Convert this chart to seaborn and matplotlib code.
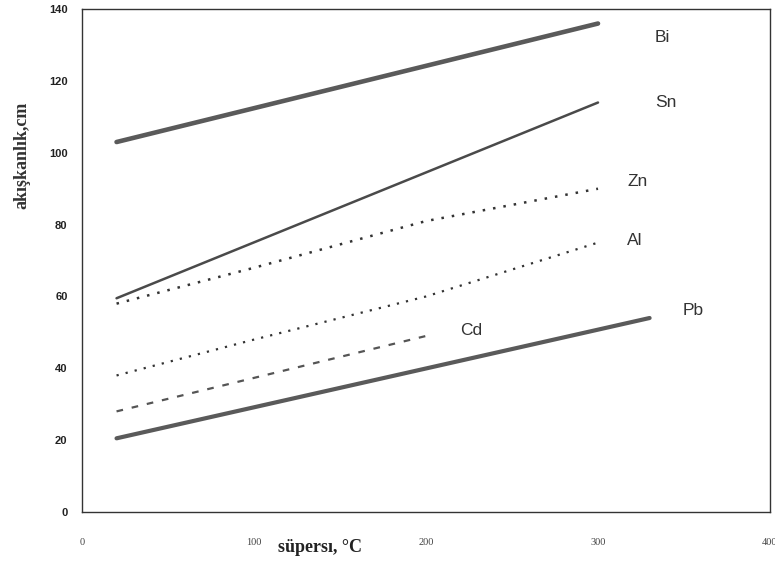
import matplotlib
matplotlib.use("Agg")
import matplotlib.pyplot as plt
import seaborn as sns
import pandas as pd

# data
bi_x = [20, 300]
bi_y = [103, 136]
sn_x = [20, 300]
sn_y = [59.5, 114]
zn_x = [20, 100, 200, 300]
zn_y = [58, 68, 81, 90]
al_x = [20, 100, 200, 300]
al_y = [38, 48, 60, 75]
cd_x = [20, 200]
cd_y = [28, 49]
pb_x = [20, 330]
pb_y = [20.5, 54]

metals = ["Bi", "Sn", "Zn", "Al", "Cd", "Pb"]
xs = [bi_x, sn_x, zn_x, al_x, cd_x, pb_x]
ys = [bi_y, sn_y, zn_y, al_y, cd_y, pb_y]
label_x = [333, 333, 317, 317, 220, 349]
label_y = [132, 114, 92, 75.5, 50.5, 56]

x_ticks = [0, 100, 200, 300, 400]
y_ticks = [0, 20, 40, 60, 80, 100, 120, 140]

sns.set_style("white")
plt.rcParams['font.family'] = ['Liberation Sans', 'DejaVu Sans']

fig = plt.figure(figsize=(7.75, 5.72), dpi=100)
ax = fig.add_axes([0.106, 0.105, 0.8875, 0.879])

styles = {
    "Bi": dict(color="#5a5a5a", linewidth=3.3, linestyle="-"),
    "Sn": dict(color="#4a4a4a", linewidth=1.8, linestyle="-"),
    "Zn": dict(color="#333333", linewidth=1.8, linestyle=(0, (1, 3.2))),
    "Al": dict(color="#333333", linewidth=1.6, linestyle=(0, (1, 3.2))),
    "Cd": dict(color="#555555", linewidth=1.6, linestyle=(0, (3, 4))),
    "Pb": dict(color="#5a5a5a", linewidth=3.0, linestyle="-"),
}

for m, x, y in zip(metals, xs, ys):
    df = pd.DataFrame({"x": x, "y": y})
    sns.lineplot(data=df, x="x", y="y", ax=ax, **styles[m])

for m, lx, ly in zip(metals, label_x, label_y):
    ax.text(lx, ly, m, fontsize=12.5, color="#333333", ha="left", va="center")

ax.set_xlim(0, 400)
ax.set_ylim(0, 140)
ax.set_xticks(x_ticks)
ax.set_yticks(y_ticks)
ax.set_xticklabels([str(v) for v in x_ticks], fontsize=7.5, color="#444444",
                   family=['Liberation Serif'])
ax.set_yticklabels([str(v) for v in y_ticks], fontsize=8, fontweight="bold",
                   color="#222222")
ax.tick_params(axis="x", direction="inout", length=5, width=0.8, pad=16,
               colors="#555555", labelcolor="#444444")
ax.tick_params(axis="y", direction="inout", length=5, width=0.8, pad=8,
               colors="#555555", labelcolor="#222222")
ax.set_xlabel("")
ax.set_ylabel("")
for s in ax.spines.values():
    s.set_color("#333333")
    s.set_linewidth(1.0)

fig.text(320 / 775, 1 - 548 / 572, "süpersı, °C", ha="center", va="center",
         fontsize=13, fontweight="bold", family=["Liberation Serif"], color="#222222")
fig.text(22 / 775, 1 - 155 / 572, "akışkanlık,cm", ha="center", va="center",
         rotation=90, fontsize=13, fontweight="bold", family=["Liberation Serif"],
         color="#333333")

fig.savefig("out.png", dpi=100)
